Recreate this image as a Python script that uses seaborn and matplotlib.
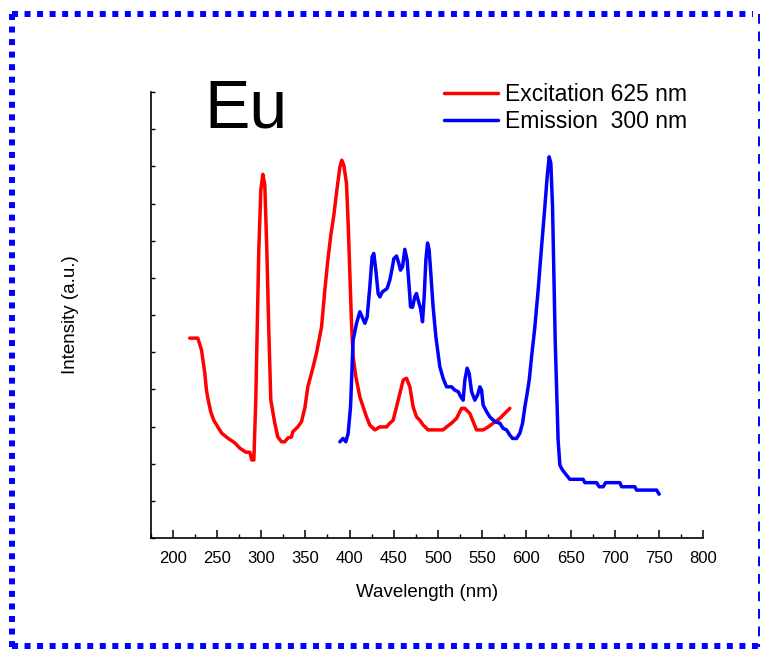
import matplotlib
matplotlib.use("Agg")
import matplotlib.pyplot as plt
from matplotlib.lines import Line2D
from matplotlib.ticker import MultipleLocator, NullFormatter
import seaborn as sns
import pandas as pd

# ---- data ----
exc_wl = [219.2, 228.3, 232.5, 236.2, 238.1, 239.6, 243.0, 246.4, 250.9, 255.4, 262.2, 270.2,
          275.8, 282.6, 287.1, 289.4, 291.7, 293.9, 297.3, 299.6, 301.9, 304.1, 306.4, 308.6,
          310.9, 315.4, 318.8, 323.0, 326.7, 330.1, 334.3, 335.8, 341.4, 345.6, 349.4, 352.8,
          358.4, 362.6, 368.3, 372.0, 375.4, 378.8, 382.2, 385.6, 389.0, 391.2, 393.5, 396.5,
          398.4, 400.3, 402.2, 404.0, 407.1, 411.6, 415.3, 419.2, 422.9, 428.6, 434.2, 441.8,
          445.5, 449.3, 453.1, 456.9, 460.6, 464.4, 468.2, 471.9, 475.7, 479.5, 483.2, 488.9,
          498.4, 505.8, 509.7, 515.3, 521.0, 526.7, 530.4, 536.1, 543.6, 551.1, 556.8, 562.4,
          570.0, 581.3]
exc_int = [5.38, 5.38, 5.06, 4.44, 3.98, 3.77, 3.39, 3.17, 2.99, 2.82, 2.69, 2.56,
           2.42, 2.31, 2.31, 2.10, 2.10, 3.71, 7.75, 9.36, 9.79, 9.50, 7.75, 5.60,
           3.71, 3.09, 2.72, 2.59, 2.59, 2.69, 2.72, 2.86, 2.99, 3.13, 3.50, 4.07,
           4.57, 4.98, 5.68, 6.67, 7.48, 8.15, 8.69, 9.36, 9.98, 10.17, 10.03, 9.55,
           8.47, 7.13, 5.78, 4.88, 4.34, 3.80, 3.53, 3.26, 3.04, 2.91, 2.99, 2.99,
           3.09, 3.17, 3.53, 3.89, 4.25, 4.30, 4.07, 3.53, 3.26, 3.17, 3.04, 2.91,
           2.91, 2.91, 2.99, 3.09, 3.22, 3.49, 3.49, 3.35, 2.91, 2.91, 2.99, 3.09,
           3.22, 3.49]

em_wl = [389.0, 392.7, 395.8, 398.4, 401.1, 404.0, 407.9, 411.6, 414.2, 417.3, 419.9, 422.9,
         425.5, 427.4, 429.7, 432.3, 434.2, 437.3, 439.9, 442.5, 445.5, 447.8, 450.1, 453.1,
         455.7, 457.6, 459.9, 462.5, 465.1, 467.4, 469.0, 471.2, 473.8, 475.7, 477.6, 480.3,
         482.5, 484.4, 486.3, 488.2, 490.0, 491.9, 494.5, 497.6, 502.1, 505.8, 509.7, 515.3,
         519.1, 522.8, 525.9, 528.5, 530.4, 533.0, 535.3, 538.0, 541.7, 544.8, 547.4, 549.3,
         551.1, 555.0, 558.7, 564.3, 570.0, 573.7, 577.6, 581.3, 584.4, 588.9, 592.6, 595.7,
         598.3, 600.9, 603.2, 605.9, 609.6, 613.3, 617.2, 620.9, 623.5, 625.8, 627.7, 629.6,
         631.1, 632.6, 634.8, 635.9, 637.9, 640.9, 645.5, 649.2, 664.2, 666.2, 679.4, 682.4,
         686.9, 689.6, 705.8, 707.7, 722.7, 724.6, 747.3, 750.2]
em_int = [2.59, 2.68, 2.59, 2.82, 3.53, 5.33, 5.78, 6.09, 5.95, 5.78, 5.95, 6.76,
          7.57, 7.66, 7.21, 6.58, 6.49, 6.63, 6.67, 6.72, 6.94, 7.21, 7.52, 7.59,
          7.39, 7.21, 7.30, 7.77, 7.48, 6.76, 6.22, 6.21, 6.49, 6.58, 6.40, 6.18,
          5.82, 6.49, 7.48, 7.94, 7.75, 7.12, 6.22, 5.42, 4.61, 4.30, 4.07, 4.07,
          3.98, 3.94, 3.80, 3.71, 4.25, 4.57, 4.43, 3.94, 3.71, 3.85, 4.07, 3.98,
          3.58, 3.40, 3.26, 3.13, 3.09, 2.95, 2.91, 2.77, 2.68, 2.68, 2.82, 3.09,
          3.53, 3.89, 4.25, 4.88, 5.68, 6.67, 7.84, 8.91, 9.72, 10.26, 10.08, 8.91,
          7.12, 5.33, 3.53, 2.64, 1.96, 1.83, 1.69, 1.58, 1.58, 1.49, 1.49, 1.38,
          1.38, 1.49, 1.49, 1.38, 1.38, 1.29, 1.29, 1.18]

series_labels = ["Excitation 625 nm", "Emission  300 nm"]
x_ticks = list(range(200, 801, 50))

# ---- style ----
sns.set_theme(style="white")
plt.rcParams["font.family"] = ["Liberation Sans", "DejaVu Sans"]
plt.rcParams["text.color"] = "black"
plt.rcParams["axes.labelcolor"] = "black"
plt.rcParams["xtick.color"] = "black"
plt.rcParams["ytick.color"] = "black"

fig = plt.figure(figsize=(7.61, 6.49), dpi=100)
ax = fig.add_axes([0.198, 0.171, 0.726, 0.687])

exc_df = pd.DataFrame({"wl": exc_wl, "I": exc_int})
em_df = pd.DataFrame({"wl": em_wl, "I": em_int})
sns.lineplot(data=exc_df, x="wl", y="I", ax=ax, color="#ff0000", lw=2.5,
             sort=False, estimator=None, label=series_labels[0])
sns.lineplot(data=em_df, x="wl", y="I", ax=ax, color="#0000ff", lw=2.5,
             sort=False, estimator=None, label=series_labels[1])

ax.set_xlim(175, 800)
ax.set_ylim(0, 12)
ax.set_xticks(x_ticks)
ax.set_xticklabels([str(t) for t in x_ticks], fontsize=12)
ax.xaxis.set_minor_locator(MultipleLocator(25))
ax.yaxis.set_major_locator(MultipleLocator(1))
ax.yaxis.set_major_formatter(NullFormatter())
ax.tick_params(axis="x", which="major", direction="in", length=6, width=1.1,
               colors="black", pad=9, bottom=True)
ax.tick_params(axis="x", which="minor", direction="in", length=3, width=1.0,
               bottom=True)
ax.tick_params(axis="y", which="major", direction="in", length=3, width=1.0,
               left=True)
for s in ["top", "right"]:
    ax.spines[s].set_visible(False)
for s in ["left", "bottom"]:
    ax.spines[s].set_color("black")
    ax.spines[s].set_linewidth(1.2)

ax.set_xlabel("Wavelength (nm)", fontsize=13.5, labelpad=13, color="black")
ax.set_ylabel("Intensity (a.u.)", fontsize=13.5, labelpad=48, color="black")

ax.text(236.0, 11.06, "Eu", fontsize=49, va="baseline", ha="left", color="black")

leg = ax.legend(loc="upper left", bbox_to_anchor=(0.514, 1.0415), frameon=False,
                fontsize=16.5, handlelength=2.36, handletextpad=0.3,
                labelspacing=0.2, borderaxespad=0)
for h in leg.get_lines():
    h.set_linewidth(2.5)
for t in leg.get_texts():
    t.set_color("black")

# ---- dashed figure border ----
fig.add_artist(Line2D([0.016, 0.99], [0.979, 0.979], color="#0000ff", lw=4.3,
                      linestyle=(0, (1, 1.1)), dash_capstyle="butt",
                      transform=fig.transFigure))
fig.add_artist(Line2D([0.016, 0.016], [0.979, 0.003], color="#0000ff", lw=4.3,
                      linestyle=(0, (1, 1.1)), dash_capstyle="butt",
                      transform=fig.transFigure))
fig.add_artist(Line2D([0.016, 0.998], [0.004, 0.004], color="#0000ff", lw=4.3,
                      linestyle=(0, (1, 1.1)), dash_capstyle="butt",
                      transform=fig.transFigure))
fig.add_artist(Line2D([0.997, 0.997], [0.979, 0.003], color="#0000ff", lw=1.4,
                      linestyle=(0, (5, 4)), dash_capstyle="butt",
                      transform=fig.transFigure))

fig.savefig("out.png", dpi=100)
